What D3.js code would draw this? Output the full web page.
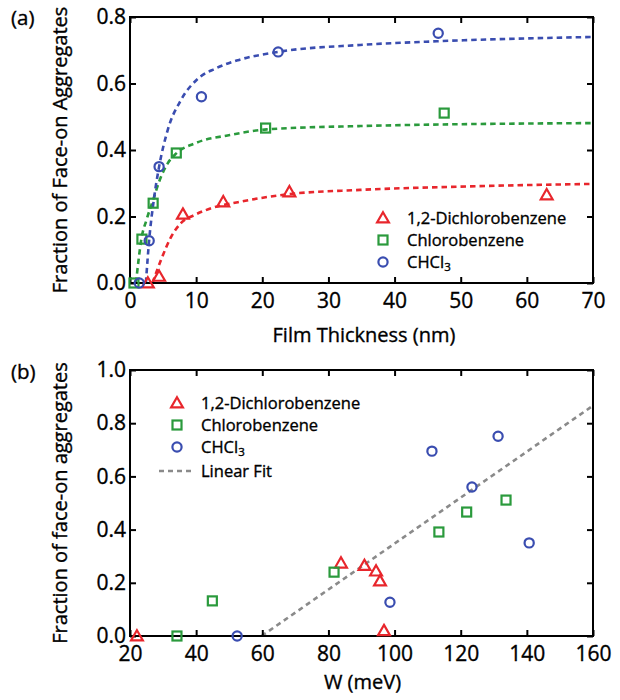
<!DOCTYPE html>
<html><head><meta charset="utf-8">
<script src="https://cdn.jsdelivr.net/npm/d3@7"></script>
<style>body{margin:0;background:#fff}svg{display:block}text{font-family:"Open Sans","Liberation Sans",sans-serif;fill:#000;stroke:#000;stroke-width:0.35px}</style>
</head><body>
<svg id="c" width="620" height="700"></svg>
<script>
// ---------- Data (panel a: fraction vs film thickness) ----------
const seriesNames = ["1,2-Dichlorobenzene", "Chlorobenzene", "CHCl3"];
const dcbThick = [2.7, 4.4, 8.0, 14.1, 24.1, 63.0];
const dcbFrac  = [0, 0.02, 0.207, 0.244, 0.274, 0.265];
const cbThick  = [0.6, 1.8, 3.5, 7.0, 20.5, 47.5];
const cbFrac   = [0, 0.132, 0.24, 0.391, 0.466, 0.511];
const chThick  = [1.4, 2.9, 4.4, 10.8, 22.4, 46.6];
const chFrac   = [0, 0.127, 0.35, 0.56, 0.695, 0.751];
// fit curves
const dcbFitX = [3.4, 4.7, 6.2, 7.7, 9.8, 12.3, 16.3, 23.9, 34.8, 50, 70];
const dcbFitY = [0, 0.07, 0.138, 0.18, 0.205, 0.225, 0.243, 0.267, 0.28, 0.29, 0.298];
const cbFitX  = [0.9, 1.3, 1.7, 2.5, 3.5, 4.5, 5.7, 7.0, 9.8, 15.1, 20.7, 34.8, 70];
const cbFitY  = [0, 0.07, 0.13, 0.19, 0.25, 0.31, 0.36, 0.39, 0.42, 0.445, 0.462, 0.472, 0.481];
const chFitX  = [2.4, 2.9, 3.6, 4.4, 5.7, 7.7, 10.3, 12.9, 16.3, 22.4, 34.8, 46.4, 70];
const chFitY  = [0, 0.13, 0.25, 0.35, 0.46, 0.55, 0.615, 0.645, 0.67, 0.695, 0.716, 0.727, 0.74];
const xTicksA = [0, 10, 20, 30, 40, 50, 60, 70];
const yTicksA = [0, 0.2, 0.4, 0.6, 0.8];

// ---------- Data (panel b: fraction vs W) ----------
const dcbW  = [22.1, 83.8, 90.9, 94.4, 95.6, 96.8];
const dcbFb = [0, 0.274, 0.265, 0.244, 0.207, 0.02];
const cbW   = [34.2, 44.9, 81.7, 113.4, 121.8, 133.7];
const cbFb  = [0, 0.132, 0.24, 0.391, 0.466, 0.511];
const chW   = [52.4, 98.6, 111.3, 123.4, 131.3, 140.7];
const chFb  = [0, 0.127, 0.695, 0.56, 0.751, 0.35];
const linFitX = [59.8, 160];
const linFitY = [0, 0.866];
const xTicksB = [20, 40, 60, 80, 100, 120, 140, 160];
const yTicksB = [0, 0.2, 0.4, 0.6, 0.8, 1.0];

const colors = ["#e8262c", "#2a9a3c", "#3a4db0"];
const shapes = ["tri", "sq", "circ"];
const FONT = '"Open Sans","Liberation Sans",sans-serif';

const svg = d3.select("#c");

function marker(g, shape, color, x, y) {
  if (shape === "tri") {
    g.append("path").attr("d", d3.symbol(d3.symbolTriangle2, 100)())
      .attr("transform", `translate(${x},${y + 1})`)
      .attr("fill", "none").attr("stroke", color).attr("stroke-width", 2.2);
  } else if (shape === "sq") {
    g.append("rect").attr("x", x - 4.5).attr("y", y - 4.5).attr("width", 9).attr("height", 9)
      .attr("fill", "none").attr("stroke", color).attr("stroke-width", 2.2);
  } else {
    g.append("circle").attr("cx", x).attr("cy", y).attr("r", 4.6)
      .attr("fill", "none").attr("stroke", color).attr("stroke-width", 2.2);
  }
}

function frame(g, x, y, xTicks, yTicks, fmtX, fmtY) {
  const [x0, x1] = x.range(), [y0, y1] = y.range();
  const tl = 6;
  const ax = g.append("g").attr("class", "axes");
  ax.append("g").attr("transform", `translate(0,${y0})`)
    .call(d3.axisBottom(x).tickValues(xTicks).tickSizeInner(-tl).tickSizeOuter(0).tickPadding(10).tickFormat(fmtX))
    .call(s => s.select(".domain").remove())
    .call(s => s.selectAll("text").attr("font-size", 21).attr("dy", "0.71em"));
  ax.append("g").attr("transform", `translate(0,${y1})`)
    .call(d3.axisTop(x).tickValues(xTicks).tickSizeInner(-tl).tickSizeOuter(0).tickFormat(""))
    .call(s => s.select(".domain").remove());
  ax.append("g").attr("transform", `translate(${x0},0)`)
    .call(d3.axisLeft(y).tickValues(yTicks).tickSizeInner(-tl).tickSizeOuter(0).tickPadding(4).tickFormat(fmtY))
    .call(s => s.select(".domain").remove())
    .call(s => s.selectAll("text").attr("font-size", 21));
  ax.append("g").attr("transform", `translate(${x1},0)`)
    .call(d3.axisRight(y).tickValues(yTicks).tickSizeInner(-tl).tickSizeOuter(0).tickFormat(""))
    .call(s => s.select(".domain").remove());
  ax.selectAll(".tick line").attr("stroke", "#000").attr("stroke-width", 2);
  ax.selectAll("text").attr("fill", "#000").attr("font-family", FONT);
  g.append("rect").attr("x", x0).attr("y", y1).attr("width", x1 - x0).attr("height", y0 - y1)
    .attr("fill", "none").attr("stroke", "#000").attr("stroke-width", 2);
}

function legendLabel(g, name, x, y) {
  const t = g.append("text").attr("x", x).attr("y", y).attr("dy", "0.35em").attr("font-size", 16.5);
  if (name === "CHCl3") {
    t.append("tspan").text("CHCl");
    t.append("tspan").text("3").attr("font-size", 11.5).attr("dy", "3");
  } else t.text(name);
}

// ---------------- Panel (a) ----------------
{
  const x = d3.scaleLinear().domain([0, 70]).range([130, 593]);
  const y = d3.scaleLinear().domain([0, 0.8]).range([283, 17]);
  const g = svg.append("g");
  const line = d3.line().x(d => x(d[0])).y(d => y(d[1])).curve(d3.curveMonotoneX);
  const fits = [[dcbFitX, dcbFitY], [cbFitX, cbFitY], [chFitX, chFitY]];
  fits.forEach((f, i) => {
    g.append("path").datum(d3.zip(f[0], f[1])).attr("d", line)
      .attr("fill", "none").attr("stroke", colors[i]).attr("stroke-width", 2.6)
      .attr("stroke-dasharray", "5.5,4");
  });
  frame(g, x, y, xTicksA, yTicksA, d3.format("d"), d3.format(".1f"));
  const pts = [[dcbThick, dcbFrac], [cbThick, cbFrac], [chThick, chFrac]];
  pts.forEach((p, i) => p[0].forEach((v, j) => marker(g, shapes[i], colors[i], x(v), y(p[1][j]))));
  const lys = [218, 240, 262];
  seriesNames.forEach((n, i) => {
    marker(g, shapes[i], colors[i], 383, lys[i]);
    legendLabel(g, n, 407, lys[i]);
  });
  g.append("text").attr("x", 11).attr("y", 18).attr("dy", "0.35em").attr("font-size", 20.5).text("(a)");
  g.append("text").attr("transform", "translate(60,150) rotate(-90)").attr("text-anchor", "middle")
    .attr("dy", "0.35em").attr("font-size", 20).text("Fraction of Face-on Aggregates");
  g.append("text").attr("x", 364).attr("y", 334.5).attr("text-anchor", "middle").attr("dy", "0.35em")
    .attr("font-size", 20).text("Film Thickness (nm)");
}

// ---------------- Panel (b) ----------------
{
  const x = d3.scaleLinear().domain([20, 160]).range([130, 593]);
  const y = d3.scaleLinear().domain([0, 1.0]).range([636, 370]);
  const g = svg.append("g");
  const line = d3.line().x(d => x(d[0])).y(d => y(d[1]));
  g.append("path").datum(d3.zip(linFitX, linFitY)).attr("d", line)
    .attr("fill", "none").attr("stroke", "#8a8a8a").attr("stroke-width", 2.6).attr("stroke-dasharray", "5,4");
  frame(g, x, y, xTicksB, yTicksB, d3.format("d"), d3.format(".1f"));
  const pts = [[dcbW, dcbFb], [cbW, cbFb], [chW, chFb]];
  pts.forEach((p, i) => p[0].forEach((v, j) => marker(g, shapes[i], colors[i], x(v), y(p[1][j]))));
  const lys = [403, 425, 447, 471];
  seriesNames.forEach((n, i) => {
    marker(g, shapes[i], colors[i], 177, lys[i]);
    legendLabel(g, n, 201, lys[i]);
  });
  g.append("line").attr("x1", 159).attr("x2", 193).attr("y1", lys[3]).attr("y2", lys[3])
    .attr("stroke", "#8a8a8a").attr("stroke-width", 2.6).attr("stroke-dasharray", "5,4");
  legendLabel(g, "Linear Fit", 201, lys[3]);
  g.append("text").attr("x", 11).attr("y", 372).attr("dy", "0.35em").attr("font-size", 20.5).text("(b)");
  g.append("text").attr("transform", "translate(60,503) rotate(-90)").attr("text-anchor", "middle")
    .attr("dy", "0.35em").attr("font-size", 20).text("Fraction of face-on aggregates");
  g.append("text").attr("x", 362.5).attr("y", 682).attr("text-anchor", "middle").attr("dy", "0.35em")
    .attr("font-size", 20).text("W (meV)");
}
</script>
</body></html>
